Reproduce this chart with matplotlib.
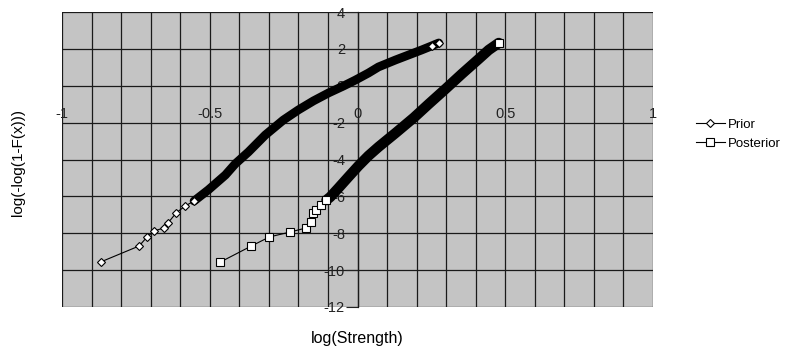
import numpy as np
import matplotlib.pyplot as plt

plt.rcParams['font.family'] = ['Liberation Sans', 'DejaVu Sans']
plt.rcParams['axes.unicode_minus'] = False

# Prior: sparse lower tail (markers visible) and dense body (solid band)
prior_tail_x = [-0.868, -0.739, -0.712, -0.688, -0.654, -0.641, -0.614, -0.583, -0.553]
prior_tail_y = [-9.55, -8.69, -8.20, -7.87, -7.71, -7.44, -6.90, -6.52, -6.25]
prior_body_x = [-0.553, -0.505, -0.447, -0.414, -0.369, -0.312, -0.251, -0.200, -0.149,
                -0.098, -0.047, -0.007, 0.037, 0.071, 0.129, 0.173, 0.217, 0.251, 0.275]
prior_body_y = [-6.25, -5.65, -4.84, -4.24, -3.59, -2.67, -1.86, -1.31, -0.82,
                -0.39, -0.01, 0.31, 0.69, 1.02, 1.40, 1.67, 1.94, 2.16, 2.32]
prior_top_x = [0.251, 0.275]
prior_top_y = [2.16, 2.32]

# Posterior
post_tail_x = [-0.464, -0.359, -0.298, -0.227, -0.173, -0.159, -0.149, -0.139, -0.122, -0.105]
post_tail_y = [-9.56, -8.69, -8.20, -7.93, -7.71, -7.39, -6.90, -6.74, -6.47, -6.20]
post_body_x = [-0.105, -0.092, -0.064, -0.031, 0.003, 0.037, 0.071, 0.129, 0.190,
               0.241, 0.298, 0.353, 0.410, 0.444, 0.478]
post_body_y = [-6.20, -6.03, -5.54, -4.95, -4.35, -3.80, -3.32, -2.56, -1.74,
               -0.99, -0.17, 0.64, 1.45, 1.94, 2.32]
post_top_x = [0.478]
post_top_y = [2.32]

x_labels = [-1, -0.5, 0, 0.5, 1]
y_ticks = np.arange(-12, 5, 2)

fig = plt.figure(figsize=(7.98, 3.51), dpi=100)
ax = fig.add_axes([62/798, 1-307/351, (653-62)/798, 295/351])
ax.set_facecolor('#c4c4c4')

ax.set_xlim(-1, 1)
ax.set_ylim(-12, 4)
ax.set_xticks(x_labels)
ax.set_xticks(np.arange(-1, 1.01, 0.1), minor=True)
ax.set_yticks(y_ticks)
ax.grid(True, which='both', axis='x', color='#1a1a1a', lw=0.9)
ax.grid(True, which='major', axis='y', color='#1a1a1a', lw=0.9)
ax.set_axisbelow(True)
ax.tick_params(axis='x', which='both', length=0, labelbottom=False)
ax.spines['left'].set_position(('data', 0))
ax.spines['left'].set_color('#1a1a1a')
ax.spines['left'].set_linewidth(0.9)
ax.tick_params(axis='y', direction='out', length=9, width=0.8, pad=0,
               labelsize=10.5, colors='#222222')
for s in ['top', 'right', 'bottom']:
    ax.spines[s].set_visible(False)

for xv in x_labels:
    ax.text(xv, -1.55, str(xv), ha='center', va='center', fontsize=10.5, color='#222222')

# dense bands
ax.plot(prior_body_x, prior_body_y, color='black', lw=6.3,
        solid_capstyle='round', solid_joinstyle='round', zorder=3)
ax.plot(post_body_x, post_body_y, color='black', lw=7.5,
        solid_capstyle='round', solid_joinstyle='round', zorder=3)

# sparse tails with markers
h_prior, = ax.plot(prior_tail_x, prior_tail_y, color='black', lw=0.8, marker='D',
                   ms=4.5, mfc='white', mec='black', mew=0.8, zorder=4, label='Prior')
h_post, = ax.plot(post_tail_x, post_tail_y, color='black', lw=0.8, marker='s',
                  ms=5.5, mfc='white', mec='black', mew=0.8, zorder=4, label='Posterior')
ax.plot(prior_top_x, prior_top_y, ls='none', marker='D', ms=4.5, mfc='white',
        mec='black', mew=0.8, zorder=5)
ax.plot(post_top_x, post_top_y, ls='none', marker='s', ms=5.5, mfc='white',
        mec='black', mew=0.8, zorder=5)

fig.text(357/798, 1-338/351, 'log(Strength)', ha='center', va='center', fontsize=11.5)
fig.text(18/798, 1-163/351, 'log(-log(1-F(x)))', ha='center', va='center',
         rotation=90, fontsize=11)

fig.legend(handles=[h_prior, h_post], loc='center left',
           bbox_to_anchor=(684/798, 1-134/351), frameon=False, fontsize=9.5,
           handlelength=2.2, handletextpad=0.2, labelspacing=0.5)

fig.savefig('out.png', dpi=100)
